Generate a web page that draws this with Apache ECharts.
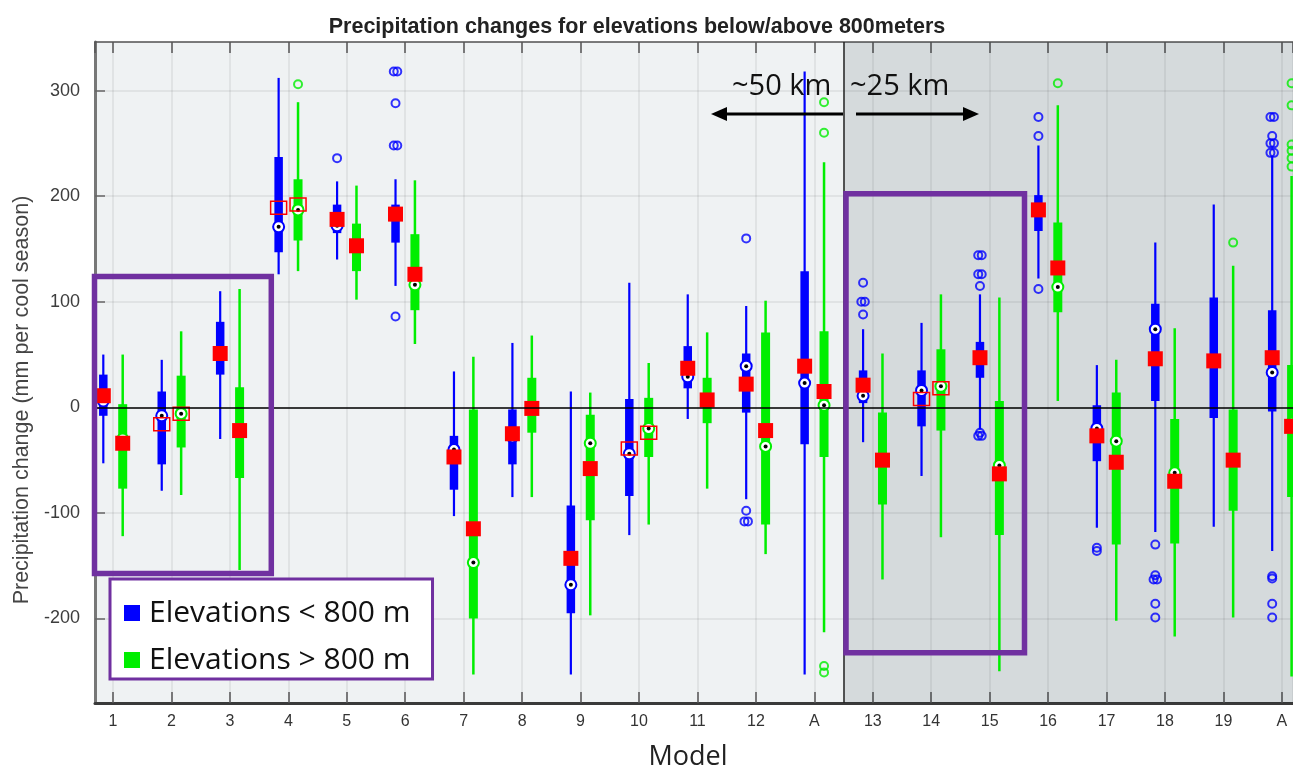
<!DOCTYPE html>
<html>
<head>
<meta charset="utf-8">
<script src="https://cdn.jsdelivr.net/npm/echarts@6/dist/echarts.min.js"></script>
<style>
html,body{margin:0;padding:0;background:#fff;}
#chart{width:1293px;height:771px;}
</style>
</head>
<body>
<div id="chart"></div>
<script>
// ---------------- DATA ----------------
const xLabels = ['1','2','3','4','5','6','7','8','9','10','11','12','A','13','14','15','16','17','18','19','A'];
const yTicks = [-200,-100,0,100,200,300];

// Elevations < 800 m (blue)
const blueLow    = [-53,-79,-30,126,140,115,-103,-85,-253,-121,-11,-87,-253,-33,-65,-21,122,-114,-118,-113,-136];
const blueQ1     = [-8,-54,31,147,165,156,-78,-54,-195,-84,18,-5,-35,4,-18,28,167,-51,6,-10,-4];
const blueMedian = [6,-8,52,171,172,185,-40,-28,-168,-44,29,39,23,11,16,46,186,-20,74,44,33];
const blueQ3     = [31,15,81,237,192,192,-27,-2,-93,8,58,51,129,35,35,62,201,2,98,104,92];
const blueHigh   = [50,45,110,312,214,216,34,61,15,118,107,96,318,74,80,107,248,40,156,192,238];
const blueMean   = [11,-16,51,189,178,183,-47,-25,-143,-39,37,22,39,21,8,47,187,-27,46,44,47];
const blueMeanFilled = [1,0,1,0,1,1,1,1,1,0,1,1,1,1,0,1,1,1,1,1,1];
const blueOutliers = [[5,236],[6,318],[6,318],[6,288],[6,248],[6,248],[6,86],
  [12,160],[12,-98],[12,-108],[12,-108],[14,118],[14,100],[14,100],[14,88],
  [16,144],[16,144],[16,126],[16,126],[16,115],[16,-24],[16,-27],[16,-27],
  [17,275],[17,257],[17,112],[18,-133],[18,-136],
  [19,-130],[19,-159],[19,-163],[19,-163],[19,-186],[19,-199],
  [21,275],[21,275],[21,257],[21,250],[21,250],[21,241],[21,241],[21,-160],[21,-162],[21,-186],[21,-199]];

// Elevations > 800 m (green)
const greenLow    = [-122,-83,-154,129,102,60,-253,-85,-197,-111,-77,-139,-213,-163,-123,-250,6,-202,-217,-199,-255];
const greenQ1     = [-77,-38,-67,158,129,92,-200,-24,-107,-47,-15,-111,-47,-92,-22,-121,90,-130,-129,-98,-85];
const greenMedian = [-30,-6,-22,187,155,116,-147,1,-34,-20,5,-37,2,-48,20,-55,114,-32,-62,-50,-15];
const greenQ3     = [3,30,19,216,174,164,-2,28,-7,9,28,71,72,-5,55,6,175,14,-11,-2,40];
const greenHigh   = [50,72,112,289,210,215,48,68,14,42,71,101,232,51,107,104,286,45,75,134,219];
const greenMean   = [-34,-6,-22,192,153,126,-115,-1,-58,-24,7,-22,15,-50,18,-63,132,-52,-70,-50,-18];
const greenMeanFilled = [1,0,1,0,1,1,1,1,1,0,1,1,1,1,0,1,1,1,1,1,1];
const greenOutliers = [[4,306],[13,289],[13,260],[13,-245],[13,-251],[17,307],[20,156],
  [21,307],[21,286],[21,249],[21,243],[21,236],[21,228]];

const seriesNames = ['Elevations < 800 m','Elevations > 800 m'];
// ---------------------------------------

const BLUE = '#0000ff', GREEN = '#00ee00', RED = '#ff0000', PURPLE = '#7030a0';
const OFF = 0.166;

function boxData(low,q1,med,q3,high,mean,filled){
  return xLabels.map((_,i)=>[i+1, low[i], q1[i], med[i], q3[i], high[i], mean[i], filled[i]]);
}
function outlierData(list, off){
  const counts = {}, seen = {};
  list.forEach(p=>{const k=p[0]+'_'+p[1]; counts[k]=(counts[k]||0)+1;});
  return list.map(p=>{
    const k=p[0]+'_'+p[1]; const n=counts[k]; const j=seen[k]||0; seen[k]=j+1;
    return {value:[p[0]+off, p[1]], symbolOffset:[(j-(n-1)/2)*3.5, 0]};
  });
}
function makeRender(off, color, boxW, whW){
  return function(params, api){
    const x = api.value(0) + off;
    const pl = api.coord([x, api.value(1)]);
    const p1 = api.coord([x, api.value(2)]);
    const pm = api.coord([x, api.value(3)]);
    const p3 = api.coord([x, api.value(4)]);
    const ph = api.coord([x, api.value(5)]);
    const pmean = api.coord([x, api.value(6)]);
    const filled = api.value(7) === 1;
    const cx = pl[0];
    const ch = [
      {type:'rect', shape:{x:cx-whW/2, y:ph[1], width:whW, height:pl[1]-ph[1]}, style:{fill:color}},
      {type:'rect', shape:{x:cx-boxW/2, y:p3[1], width:boxW, height:p1[1]-p3[1]}, style:{fill:color}},
      {type:'circle', shape:{cx:cx, cy:pm[1], r:5.5}, style:{fill:'#fff', stroke:color, lineWidth:2}},
      {type:'circle', shape:{cx:cx, cy:pm[1], r:2}, style:{fill:'#000'}}
    ];
    if (filled) {
      ch.push({type:'rect', shape:{x:cx-7.5, y:pmean[1]-7.5, width:15, height:15}, style:{fill:RED}});
    } else {
      ch.push({type:'rect', shape:{x:cx-8, y:pmean[1]-6.5, width:16, height:13}, style:{fill:'none', stroke:RED, lineWidth:1.5}});
    }
    return {type:'group', children:ch};
  };
}

const chart = echarts.init(document.getElementById('chart'), null, {renderer:'canvas'});
const XMIN = 0.692, XMAX = 21.19;
const labelFont = '"Liberation Sans", Arial, sans-serif';

const option = {
  animation:false,
  backgroundColor:'#ffffff',
  grid:{left:95, top:42, width:1198, height:661, show:true, backgroundColor:'#eff2f3', borderWidth:0},
  xAxis:[
    {type:'value', min:XMIN, max:XMAX, position:'bottom', minInterval:1, maxInterval:1,
     axisLine:{show:true, onZero:false, lineStyle:{color:'#3a3a3a', width:3}},
     axisTick:{show:true, inside:true, length:11, lineStyle:{color:'#555', width:1.5}},
     axisLabel:{show:true, margin:11, fontSize:16, color:'#333', fontFamily:'"Liberation Sans Narrow", "Liberation Sans", Arial, sans-serif',
       showMinLabel:false, showMaxLabel:false,
       formatter:function(v){const i=Math.round(v); return (Math.abs(v-i)<1e-6 && i>=1 && i<=xLabels.length)? xLabels[i-1] : '';}},
     splitLine:{show:true, lineStyle:{color:'rgba(0,0,0,0.08)', width:1.5}}},
    {type:'value', min:XMIN, max:XMAX, position:'top', minInterval:1, maxInterval:1,
     axisLine:{show:true, onZero:false, lineStyle:{color:'#555', width:1.5}},
     axisTick:{show:true, inside:true, length:11, lineStyle:{color:'#555', width:1.5}},
     axisLabel:{show:false}, splitLine:{show:false}}
  ],
  yAxis:{type:'value', min:-280, max:346, minInterval:100, maxInterval:100,
     axisLine:{show:true, onZero:false, lineStyle:{color:'#777', width:3}},
     axisTick:{show:true, inside:true, length:10, lineStyle:{color:'#666', width:1.5}},
     axisLabel:{margin:15, fontSize:18, color:'#3d3d3d', fontFamily:labelFont, showMinLabel:false, showMaxLabel:false,
       formatter:function(v){return yTicks.indexOf(v)>=0 ? String(v) : '';}},
     splitLine:{show:true, lineStyle:{color:'rgba(0,0,0,0.08)', width:1.5}}},
  legend:{data:seriesNames, orient:'vertical', left:110, top:579, icon:'rect', itemWidth:16, itemHeight:16, itemGap:17,
     backgroundColor:'#ffffff', borderColor:PURPLE, borderWidth:3, borderRadius:0, padding:[19,22,4,14],
     textStyle:{fontSize:30, fontFamily:'"Open Sans", sans-serif', color:'#111', padding:[0,0,0,4], lineHeight:30}},
  series:[
    {type:'line', name:'bg', data:[], z:1, silent:true,
     markArea:{silent:true, itemStyle:{color:'rgba(10,30,40,0.11)'}, data:[[{xAxis:13.5},{xAxis:XMAX}]]},
     markLine:{silent:true, symbol:'none', label:{show:false},
       data:[{xAxis:13.5, lineStyle:{color:'#222', width:1.5, type:'solid'}},
             {yAxis:0, lineStyle:{color:'#000', width:1.5, type:'solid'}}]}},
    {type:'scatter', name:'blueOut', data:outlierData(blueOutliers,-OFF), symbol:'circle', symbolSize:8, z:3,
     itemStyle:{color:'rgba(0,0,0,0)', borderColor:BLUE, borderWidth:2}},
    {type:'scatter', name:'greenOut', data:outlierData(greenOutliers,OFF), symbol:'circle', symbolSize:8, z:3,
     itemStyle:{color:'rgba(0,0,0,0)', borderColor:GREEN, borderWidth:2}},
    {type:'custom', name:seriesNames[0], itemStyle:{color:BLUE}, z:4,
     data:boxData(blueLow,blueQ1,blueMedian,blueQ3,blueHigh,blueMean,blueMeanFilled),
     encode:{x:0, y:[1,5]}, renderItem:makeRender(-OFF, BLUE, 8.5, 2.2)},
    {type:'custom', name:seriesNames[1], itemStyle:{color:GREEN}, z:4,
     data:boxData(greenLow,greenQ1,greenMedian,greenQ3,greenHigh,greenMean,greenMeanFilled),
     encode:{x:0, y:[1,5]}, renderItem:makeRender(OFF, GREEN, 9, 2.5)}
  ],
  graphic:[
    {type:'text', x:637, y:27, z:100, style:{text:'Precipitation changes for elevations below/above 800meters', fontSize:21.5, fontWeight:'bold', fontFamily:labelFont, fill:'#222', align:'center', verticalAlign:'middle'}},
    {type:'text', x:22, y:400, rotation:Math.PI/2, z:100, style:{text:'Precipitation change (mm per cool season)', fontSize:21.5, fontFamily:labelFont, fill:'#444', align:'center', verticalAlign:'middle'}},
    {type:'text', x:688, y:757, z:100, style:{text:'Model', fontSize:27, fontFamily:'"Open Sans", sans-serif', fill:'#222', align:'center', verticalAlign:'middle'}},
    {type:'rect', z:100, shape:{x:94.5, y:276.5, width:176.8, height:297}, style:{fill:'none', stroke:PURPLE, lineWidth:5.5}},
    {type:'rect', z:100, shape:{x:846, y:193.7, width:178.5, height:459}, style:{fill:'none', stroke:PURPLE, lineWidth:5.5}},
    {type:'text', x:732, y:87, z:100, style:{text:'~50 km', fontSize:29, fontFamily:'"Open Sans", sans-serif', fill:'#111', align:'left', verticalAlign:'middle'}},
    {type:'text', x:850, y:87, z:100, style:{text:'~25 km', fontSize:29, fontFamily:'"Open Sans", sans-serif', fill:'#111', align:'left', verticalAlign:'middle'}},
    {type:'line', z:100, shape:{x1:843, y1:114, x2:724, y2:114}, style:{stroke:'#000', lineWidth:3}},
    {type:'polygon', z:100, shape:{points:[[711,114],[727,107],[727,121]]}, style:{fill:'#000'}},
    {type:'line', z:100, shape:{x1:856, y1:114, x2:966, y2:114}, style:{stroke:'#000', lineWidth:3}},
    {type:'polygon', z:100, shape:{points:[[979,114],[963,107],[963,121]]}, style:{fill:'#000'}}
  ]
};
chart.setOption(option);
</script>
</body>
</html>
